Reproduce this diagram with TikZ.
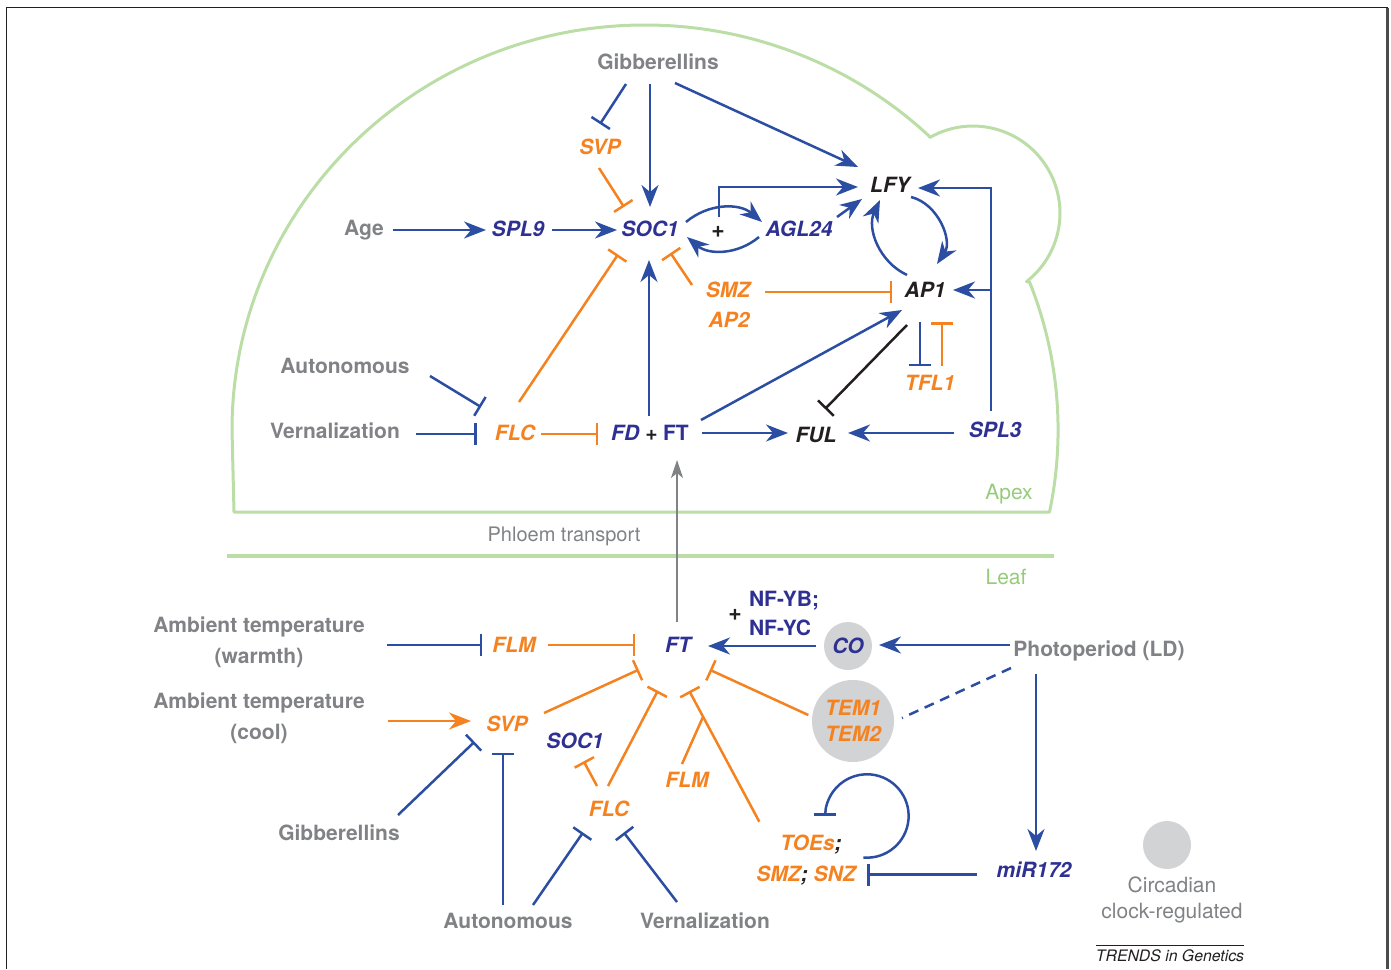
\documentclass[tikz,border=0pt]{standalone}
\usepackage{fontspec}
\setmainfont{TeX Gyre Heros}
\usetikzlibrary{arrows.meta,calc}
\definecolor{lnblue}{HTML}{2B4EA2}
\definecolor{gnavy}{HTML}{2E3192}
\definecolor{orng}{HTML}{F58220}
\definecolor{txgray}{HTML}{808285}
\definecolor{grnline}{HTML}{BBDDA6}
\definecolor{grntxt}{HTML}{96CB7C}
\definecolor{circgray}{HTML}{D1D3D4}
\definecolor{blk}{HTML}{231F20}
\begin{document}
\begin{tikzpicture}[x=1pt,y=-1pt,
  lbl/.style={font=\fontsize{21}{31}\selectfont\bfseries, text=txgray, inner sep=0pt, text height=15pt, text depth=0pt},
  mlbl/.style={font=\fontsize{21}{31}\selectfont\bfseries, text=txgray, inner sep=0pt, align=center},
  gene/.style={font=\fontsize{21}{26}\selectfont\bfseries\itshape, inner sep=0pt, text height=15pt, text depth=0pt},
  gnv/.style={gene, text=gnavy},
  gor/.style={gene, text=orng},
  gbk/.style={gene, text=blk},
  plain/.style={inner sep=0pt, text height=15pt, text depth=0pt},
  plussign/.style={font=\fontsize{23}{24}\selectfont\bfseries, text=blk, inner sep=0pt},
  bl/.style={draw=lnblue, line width=2.5pt},
  ol/.style={draw=orng, line width=2.5pt},
  kl/.style={draw=blk, line width=2.5pt},
  gl/.style={draw=txgray, line width=2pt},
  act/.style={-{Stealth[length=22pt,width=17pt,inset=7pt]}},
  inh/.style={-{Bar[width=22pt]}},
  dot/.style={circle, fill=circgray, inner sep=0pt, minimum size=#1}
]
\useasboundingbox (0,0) rectangle (1391,969);
% frame
\draw[blk, line width=1.8pt] (6.5,969) -- (6.5,7.5) -- (1387.5,7.5);
\draw[black!70, line width=3pt] (1387.5,7.5) -- (1387.5,969);

% apex outline and leaf line
\draw[grnline, line width=3pt, line join=round]
  (234,512) -- (232,430)
  arc[start angle=180, end angle=313.4, x radius=413, y radius=405]
  -- (930,137.4)
  arc[start angle=240.4, end angle=412, radius=87]
  -- (1029.6,282.2)
  arc[start angle=-21.4, end angle=11.7, x radius=413, y radius=405]
  -- (1049,512) -- cycle;
\draw[grnline, line width=4.5pt] (227,556) -- (1054,556);
\node[font=\fontsize{21}{24}\selectfont, text=grntxt, plain] (apex) at (1009,492) {Apex};
\node[font=\fontsize{21}{24}\selectfont, text=grntxt, plain] (leaf) at (1006,577) {Leaf};
\node[font=\fontsize{20}{24}\selectfont, text=txgray, plain] (phloem) at (564,534) {Phloem transport};

% ---------- apex nodes
\node[lbl] (gibT) at (658,62) {Gibberellins};
\node[gor] (svpT) at (600,147) {SVP};
\node[gnv] (soc1T) at (650,229) {SOC1};
\node[lbl] (age) at (364,228) {Age};
\node[gnv] (spl9) at (518,229) {SPL9};
\node[gnv] (agl24) at (799,229) {AGL24};
\node[gbk] (lfy) at (890,185) {LFY};
\node[gbk] (ap1) at (925,290) {AP1};
\node[gor] (smz) at (728,290) {SMZ};
\node[gor] (ap2) at (729,320) {AP2};
\node[gor] (tfl1) at (930,383) {TFL1};
\node[gbk] (ful) at (816,435) {FUL};
\node[gnv] (spl3) at (995,430) {SPL3};
\node[lbl] (autoT) at (345,366) {Autonomous};
\node[lbl] (vernT) at (335,431) {Vernalization};
\node[gor] (flcT) at (515,433) {FLC};
\node[gnv] (fdft) at (650,433) {FD {\color{blk}+} \upshape FT};
\node[plussign] (plusT) at (718,232) {+};

% ---------- apex connectors
\draw[bl,inh] ($(gibT)+(-32,22)$) -- ($(svpT)+(0,-23)$);
\draw[bl,act] ($(gibT)+(-8,22)$) -- ($(soc1T)+(0,-22)$);
\draw[bl,act] ($(gibT)+(17,21)$) -- ($(lfy)+(-32,-18)$);
\draw[ol,inh] ($(svpT)+(-1,21)$) -- ($(soc1T)+(-26,-22)$);
\draw[bl,act] ($(age)+(29,2)$) -- ($(spl9)+(-32,1)$);
\draw[bl,act] ($(spl9)+(34,1)$) -- ($(soc1T)+(-33,1)$);
\draw[bl,act] ($(soc1T)+(36,-7)$) to[bend left=40] ($(agl24)+(-37,-7)$);
\draw[bl,act] ($(agl24)+(-40,8)$) to[bend left=40] ($(soc1T)+(37,8)$);
\draw[bl,act] ($(plusT)+(1,-15)$) |- ($(lfy)+(-32,2)$);
\draw[bl,act] ($(agl24)+(38,-12)$) -- ($(lfy)+(-28,14)$);
\draw[bl,act] ($(lfy)+(21,12)$) to[bend left=55] ($(ap1)+(12,-26)$);
\draw[bl,act] ($(ap1)+(-18,-15)$) to[bend left=45] ($(lfy)+(-10,15)$);
\draw[bl,act] ($(spl3)+(-4,-19)$) |- ($(lfy)+(28,3)$);
\draw[bl,act] ($(spl3)+(-4,-140)$) -- ($(ap1)+(28,0)$);
\draw[ol,inh] ($(smz)+(37,2)$) -- ($(ap1)+(-33,2)$);
\draw[ol,inh] ($(smz)+(-36,-5)$) -- ($(soc1T)+(20.5,24)$);
\draw[ol,inh] ($(flcT)+(4,-31)$) -- ($(soc1T)+(-32,25.5)$);
\draw[bl,act] ($(fdft)+(-1,-17)$) -- ($(soc1T)+(-1,31)$);
\draw[bl,act] ($(fdft)+(51,-13)$) -- ($(ap1)+(-23,20)$);
\draw[kl,inh] ($(ap1)+(-18,35)$) -- ($(ful)+(9,-26)$);
\draw[bl,inh] ($(ap1)+(-5,32)$) -- ($(tfl1)+(-10,-17)$);
\draw[ol,inh] ($(tfl1)+(12,-17)$) -- ($(ap1)+(17,32)$);
\draw[bl,act] ($(fdft)+(52,0)$) -- ($(ful)+(-28,-2)$);
\draw[bl,act] ($(spl3)+(-41,3)$) -- ($(ful)+(32,-2)$);
\draw[bl,inh] ($(autoT)+(85,10)$) -- ($(flcT)+(-34,-26)$);
\draw[bl,inh] ($(vernT)+(81,3)$) -- ($(flcT)+(-38.5,1)$);
\draw[ol,inh] ($(flcT)+(26,1)$) -- ($(fdft)+(-52,1)$);

% ---------- leaf nodes
\node[mlbl] (ambWarm) at (259,642.7) {Ambient temperature\\(warmth)};
\node[gor] (flmB) at (514,645) {FLM};
\node[gnv] (ftB) at (678,645) {FT};
\node[font=\fontsize{21}{29}\selectfont\bfseries, text=gnavy, inner sep=0pt, align=left] (nfy) at (784,613.6) {NF-YB;\\NF-YC};
\node[plussign] (plusB) at (735,615) {+};
\node[dot=48pt, gene, text=gnavy] (co) at (848,646) {CO};
\node[lbl] (photo) at (1099,649) {Photoperiod (LD)};
\node[mlbl] (ambCool) at (259,718.7) {Ambient temperature\\(cool)};
\node[gor] (svpB) at (507,724) {SVP};
\node[gnv] (socB) at (575,741) {SOC1};
\node[dot=82pt, font=\fontsize{21}{26}\selectfont\bfseries\itshape, text=orng, align=center] (tem) at (853,721) {TEM1\\TEM2};
\node[gor] (flmB2) at (687,780) {FLM};
\node[gor] (flcB) at (609,809) {FLC};
\node[lbl] (gibB) at (339,833) {Gibberellins};
\node[gor] (toes) at (811,843) {TOEs{\color{blk};}};
\node[gor] (smzsnz) at (806,874) {SMZ{\color{blk};} SNZ};
\node[gnv] (mir) at (1034,870) {miR172};
\node[dot=48pt] (clock) at (1167,845) {};
\node[font=\fontsize{21}{26}\selectfont, text=txgray, inner sep=0pt, align=center] (circ) at (1172,899.5) {Circadian\\clock-regulated};
\node[lbl] (autoB) at (508,921) {Autonomous};
\node[lbl] (vernB) at (705,921) {Vernalization};
\node[font=\fontsize{15.8}{18}\selectfont\itshape, text=blk, plain, text height=11.5pt] (trends) at (1170,956) {TRENDS in Genetics};
\draw[blk, line width=1pt] (1096,945) -- (1244,945);

% phloem transport
\draw[gl,-{Stealth[length=18pt,width=12pt,inset=5pt]}] ($(ftB)+(-1,-23)$) -- ($(fdft)+(27,27)$);

% ---------- leaf connectors
\coordinate (join) at (703.1,716.7);
\draw[bl,inh] ($(ambWarm)+(128,2.3)$) -- ($(flmB)+(-32,0)$);
\draw[ol,inh] ($(flmB)+(34,0)$) -- ($(ftB)+(-43,0)$);
\draw[bl,act] ($(co)+(-32,0)$) -- ($(ftB)+(30,1)$);
\draw[bl,act] ($(photo)+(-89,-4)$) -- ($(co)+(31,-1)$);
\draw[bl,act] ($(photo)+(-63,25)$) -- ($(mir)+(2,-19)$);
\draw[bl,dash pattern=on 10pt off 7pt] ($(photo)+(-88,19)$) -- ($(tem)+(49,-3)$);
\draw[ol,act] ($(ambCool)+(129,2.3)$) -- ($(svpB)+(-36,-3)$);
\draw[ol,inh] ($(svpB)+(37,-11)$) -- ($(ftB)+(-39.3,24.7)$);
\draw[bl,inh] ($(gibB)+(59,-18)$) -- ($(svpB)+(-32.5,17.8)$);
\draw[bl,inh] ($(autoB)+(-5,-16)$) -- ($(svpB)+(-4,28.5)$);
\draw[bl,inh] ($(autoB)+(25,-16)$) -- ($(flcB)+(-26,23.5)$);
\draw[bl,inh] ($(vernB)+(-28,-19)$) -- ($(flcB)+(14.8,23.5)$);
\draw[ol,inh] ($(flcB)+(-12,-23)$) -- ($(socB)+(8.7,20.3)$);
\draw[ol,inh] ($(flcB)+(-1,-23)$) -- ($(ftB)+(-20.2,45.7)$);
\draw[ol,inh] ($(toes)+(-51.7,-21.3)$) -- ($(ftB)+(11.3,46)$);
\draw[ol] ($(flmB2)+(-5,-16)$) -- (join);
\draw[ol,inh] ($(tem)+(-44.7,-6)$) -- ($(ftB)+(31.8,24.8)$);
\draw[bl,inh] ($(mir)+(-57,4.5)$) -- ($(smzsnz)+(61.3,0.5)$);
\draw[bl,inh] ($(toes)+(52.3,14.5)$) arc[start angle=95, end angle=-180, radius=41.7];
\end{tikzpicture}
\end{document}
